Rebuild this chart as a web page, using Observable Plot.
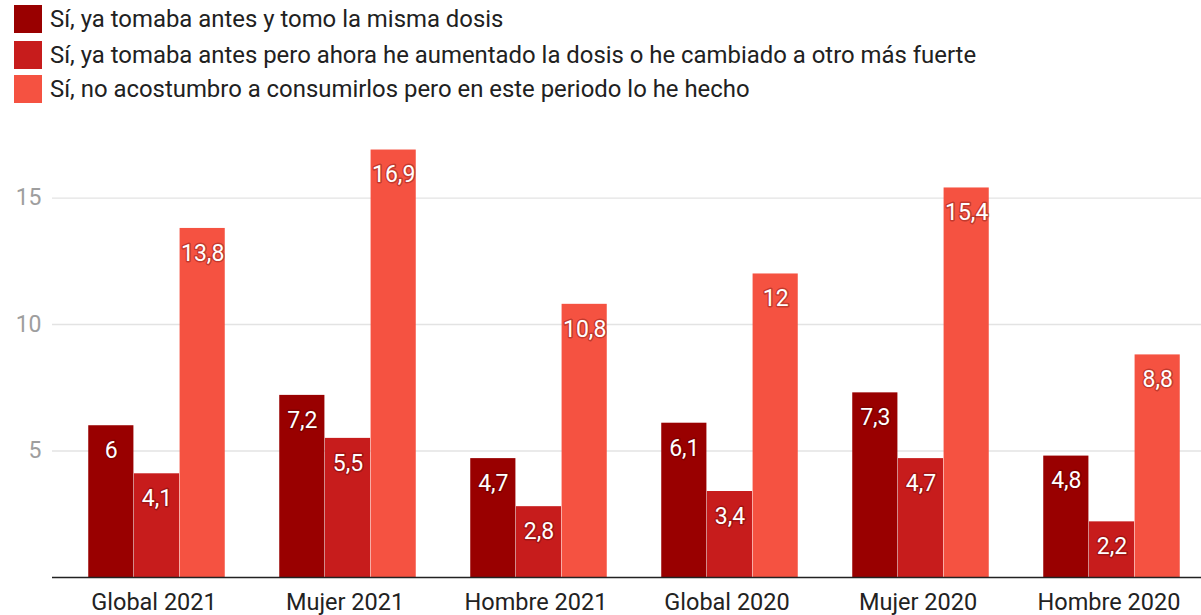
<!DOCTYPE html>
<html>
<head>
<meta charset="utf-8">
<script src="https://cdn.jsdelivr.net/npm/d3@7"></script>
<script src="https://cdn.jsdelivr.net/npm/@observablehq/plot@0.6"></script>
<style>
  html, body { margin: 0; padding: 0; background: #fff; overflow: hidden; }
  body { width: 1201px; height: 615px; font-family: Roboto, sans-serif; }
  #legend { height: 110px; position: relative; }
  .row { position: absolute; left: 14px; display: flex; align-items: center; height: 28px; }
  .sw { width: 28px; height: 28px; margin-right: 8px; }
  .lab { font-size: 23.9px; color: #212121; white-space: nowrap; }
  #chart svg { display: block; }
</style>
</head>
<body>
<div id="legend"></div>
<div id="chart"></div>
<script>
const categories = ["Global 2021", "Mujer 2021", "Hombre 2021", "Global 2020", "Mujer 2020", "Hombre 2020"];
const seriesNames = [
  "Sí, ya tomaba antes y tomo la misma dosis",
  "Sí, ya tomaba antes pero ahora he aumentado la dosis o he cambiado a otro más fuerte",
  "Sí, no acostumbro a consumirlos pero en este periodo lo he hecho"
];
const sameDose = [6, 7.2, 4.7, 6.1, 7.3, 4.8];
const increasedDose = [4.1, 5.5, 2.8, 3.4, 4.7, 2.2];
const newUse = [13.8, 16.9, 10.8, 12, 15.4, 8.8];
const yTicks = [5, 10, 15];
const colors = ["#990000", "#c71c1c", "#f55241"];

const seriesValues = [sameDose, increasedDose, newUse];
const data = categories.flatMap((c, i) =>
  seriesNames.map((s, j) => ({cat: c, series: s, j, value: seriesValues[j][i]}))
);

// legend
const legend = document.getElementById("legend");
const tops = [5, 41, 75];
seriesNames.forEach((s, j) => {
  const row = document.createElement("div");
  row.className = "row";
  row.style.top = tops[j] + "px";
  row.innerHTML = `<div class="sw" style="background:${colors[j]}"></div><div class="lab">${s}</div>`;
  legend.appendChild(row);
});

const step = 191.5;
const bw = 45.67;
const outer = (step - 3 * bw) / 2;
const fmt = v => String(v).replace(".", ",");

const marks = [
  Plot.ruleY(yTicks, {stroke: "#e3e3e3", strokeWidth: 1.4}),
  Plot.axisY(yTicks, {tickSize: 0, tickPadding: 11, fontSize: 23, fill: "#9e9e9e", textAnchor: "end"}),
  Plot.axisX({tickSize: 0, tickPadding: 16, dx: -3, fontSize: 23.5, fill: "#222", label: null})
];
seriesNames.forEach((s, j) => {
  const sub = data.filter(d => d.j === j);
  marks.push(Plot.barY(sub, {
    x: "cat", y: "value", fill: "series",
    insetLeft: outer + j * bw, insetRight: outer + (2 - j) * bw
  }));
});
seriesNames.forEach((s, j) => {
  const sub = data.filter(d => d.j === j);
  marks.push(Plot.text(sub, {
    x: "cat", y: "value", text: d => fmt(d.value),
    dx: (j - 1) * bw, dy: 25, fill: "#fff", fontSize: 23,
    stroke: "rgba(70,0,0,0.3)", strokeWidth: 3
  }));
});
marks.push(Plot.ruleY([0], {stroke: "#222", strokeWidth: 1.5}));

const chart = Plot.plot({
  width: 1201,
  height: 505,
  marginLeft: 52,
  marginRight: 0,
  marginTop: 37,
  marginBottom: 38,
  style: {fontFamily: "Roboto, sans-serif", background: "transparent"},
  x: {domain: categories, range: [59.75, 1208.75], padding: 0, label: null},
  y: {domain: [0, 17], label: null},
  color: {domain: seriesNames, range: colors},
  marks
});
document.getElementById("chart").appendChild(chart);
</script>
</body>
</html>
